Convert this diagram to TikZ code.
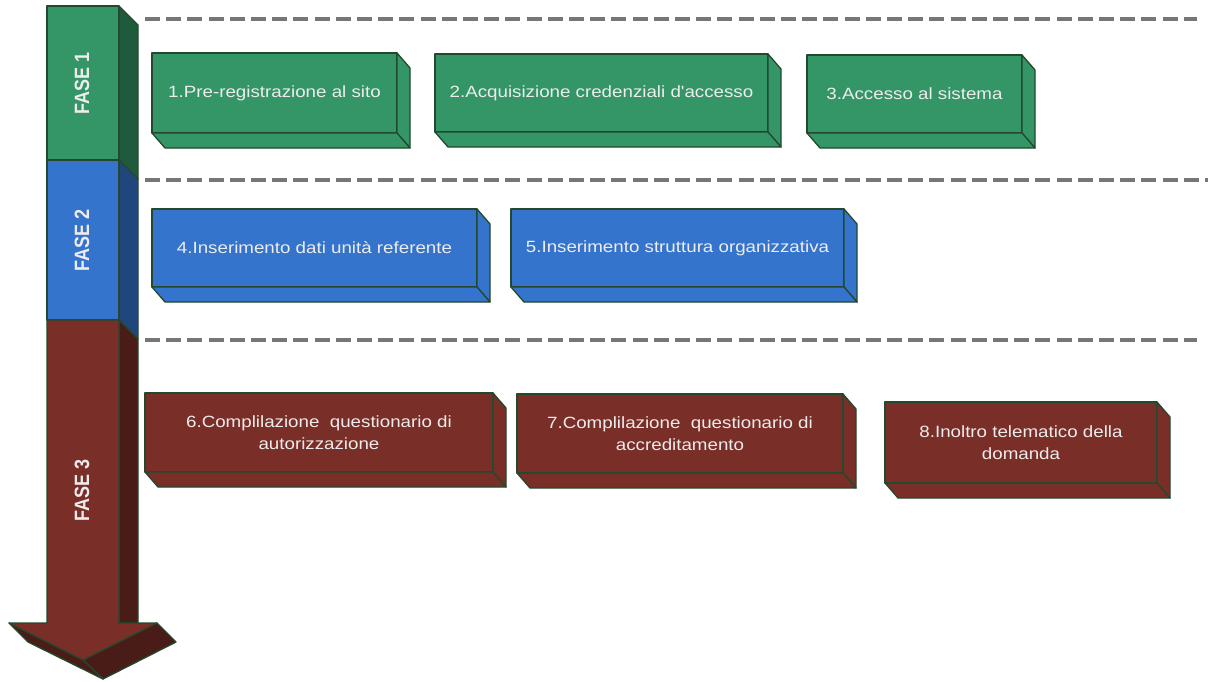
\documentclass[tikz,border=0pt]{standalone}
\usepackage{fontspec}
\setmainfont{Liberation Sans}
\newfontfamily\boxfont[FakeStretch=1.15]{Liberation Sans}
\definecolor{gfront}{RGB}{52,150,103}
\definecolor{gside}{RGB}{31,90,60}
\definecolor{bfront}{RGB}{52,116,204}
\definecolor{bside}{RGB}{31,70,125}
\definecolor{rfront}{RGB}{122,46,40}
\definecolor{rside}{RGB}{74,28,24}
\definecolor{edgecol}{RGB}{35,72,45}
\definecolor{dashcol}{RGB}{118,118,118}
\definecolor{txtcol}{RGB}{238,236,236}
\tikzset{
  edge/.style={draw=edgecol, line width=1.3pt, line join=round},
  boxface/.style={edge, rectangle, inner sep=0pt, outer sep=0pt, text=txtcol,
    font={\boxfont\fontsize{16.3}{22.5}\selectfont}, align=center},
  phase/.style={rotate=90, text=txtcol, font={\fontsize{18}{20}\selectfont\bfseries}},
  sep/.style={draw=dashcol, line width=3.2pt, dash pattern=on 15pt off 6.2pt}
}
\newcommand\mybox[7]{%
  \node[boxface, fill=#6, minimum width={#4-#2}, minimum height={#5-#3}] (#1) at ({(#2+#4)/2},{(#3+#5)/2}) {#7};
  \draw[edge, fill=#6] (#1.north east) -- ++(13,15) -- ([shift={(13,15)}]#1.south east) -- (#1.south east) -- cycle;
  \draw[edge, fill=#6] (#1.south west) -- (#1.south east) -- ([shift={(13,15)}]#1.south east) -- ([shift={(13,15)}]#1.south west) -- cycle;
}
\begin{document}
\begin{tikzpicture}[x=1pt,y=-1pt]
\useasboundingbox (0,0) rectangle (1208,681);
% separators
\draw[sep] (145,19) -- (1197,19);
\draw[sep] (145,180) -- (1208,180);
\draw[sep] (145,340) -- (1197,340);
% big arrow: side faces
\draw[edge, fill=gside] (119,6) -- (138,25) -- (138,179) -- (119,160) -- cycle;
\draw[edge, fill=bside] (119,160) -- (138,179) -- (138,339) -- (119,320) -- cycle;
\draw[edge, fill=rside] (119,320) -- (138,339) -- (138,623) -- (119,623) -- cycle;
% head extrusion
\draw[edge, fill=rside] (157,623) -- (176,642) -- (103,679) -- (83,660) -- cycle;
\draw[edge, fill=rside] (9,623) -- (83,660) -- (103,679) -- (28,642) -- cycle;
% front faces
\draw[edge, fill=gfront] (47,6) rectangle (119,160);
\draw[edge, fill=bfront] (47,160) rectangle (119,320);
\draw[edge, fill=rfront] (47,320) -- (119,320) -- (119,623) -- (157,623) -- (83,660) -- (9,623) -- (47,623) -- cycle;
% phase labels
\node[phase] (f1) at (82,83) {\scalebox{1}[1.15]{FASE 1}};
\node[phase] (f2) at (82,240) {\scalebox{1}[1.15]{FASE 2}};
\node[phase] (f3) at (82,490) {\scalebox{1}[1.15]{FASE 3}};
% boxes
\mybox{b1}{152}{53}{397}{133}{gfront}{1.Pre-registrazione al sito}
\mybox{b2}{435}{54}{768}{132}{gfront}{2.Acquisizione credenziali d'accesso}
\mybox{b3}{807}{55}{1022}{133}{gfront}{3.Accesso al sistema}
\mybox{b4}{152}{209}{477}{287}{bfront}{4.Inserimento dati unità referente}
\mybox{b5}{511}{209}{844}{287}{bfront}{5.Inserimento struttura organizzativa}
\mybox{b6}{145}{393}{493}{472}{rfront}{6.Complilazione\ \ questionario di\\autorizzazione}
\mybox{b7}{517}{394}{843}{473}{rfront}{7.Complilazione\ \ questionario di\\accreditamento}
\mybox{b8}{885}{402}{1157}{483}{rfront}{8.Inoltro telematico della\\domanda}
\end{tikzpicture}
\end{document}
